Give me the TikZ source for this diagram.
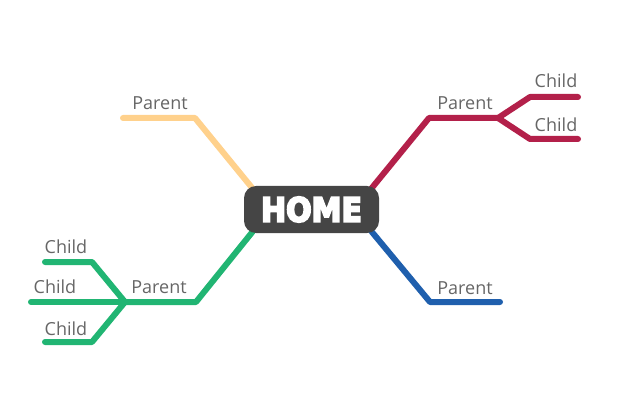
\documentclass[tikz,border=0pt]{standalone}
\usepackage{fontspec}
\setmainfont{Open Sans}
\newfontfamily\homefont{DejaVu Sans Bold}
\definecolor{cyel}{HTML}{FFD18C}
\definecolor{cred}{HTML}{B3204A}
\definecolor{cblue}{HTML}{1F5FAD}
\definecolor{cgreen}{HTML}{21B573}
\definecolor{cbox}{HTML}{454545}
\definecolor{ctext}{HTML}{666666}
\newcommand{\heavytext}[1]{\special{pdf:literal 2 Tr 1.5 w 1 1 1 RG}#1\special{pdf:literal 0 Tr}}
\begin{document}
\begin{tikzpicture}[x=0.75pt,y=-0.75pt,
  branch/.style={line width=4.5pt,line cap=round,line join=round},
  lbl/.style={text=ctext,font=\fontsize{13.5pt}{16pt}\selectfont,anchor=base,inner sep=0pt},
  homebox/.style={fill=cbox,rounded corners=9pt,minimum width=101.25pt,minimum height=35.25pt,inner sep=0pt,text=white,font=\homefont\fontsize{25pt}{26pt}\selectfont}]
\useasboundingbox (0,0) rectangle (620,413);
% coordinates
\coordinate (c) at (311.5,209.5);
% yellow
\coordinate (y0) at (262,200);
\coordinate (y1) at (195,118);
\coordinate (y2) at (123,118);
% red
\coordinate (r0) at (362,200);
\coordinate (r1) at (429,118);
\coordinate (r2) at (498,118);
\coordinate (r3) at (530,97);
\coordinate (r4) at (578,97);
\coordinate (r5) at (530,139);
\coordinate (r6) at (578,139);
% blue
\coordinate (b0) at (362,220);
\coordinate (b1) at (430,302);
\coordinate (b2) at (500,302);
% green
\coordinate (g0) at (262,220);
\coordinate (g1) at (196,302);
\coordinate (g2) at (125,302);
\coordinate (g3) at (92,262);
\coordinate (g4) at (45,262);
\coordinate (g5) at (31,302);
\coordinate (g6) at (92,342);
\coordinate (g7) at (45,342);
% branches
\draw[branch,cyel] (y0) -- (y1) -- (y2);
\draw[branch,cred] (r0) -- (r1) -- (r2) -- (r3) -- (r4);
\draw[branch,cred] (r2) -- (r5) -- (r6);
\draw[branch,cblue] (b0) -- (b1) -- (b2);
\draw[branch,cgreen] (g0) -- (g1) -- (g2) -- (g3) -- (g4);
\draw[branch,cgreen] (g2) -- (g5);
\draw[branch,cgreen] (g2) -- (g6) -- (g7);
% center
\node[homebox] (home) at (c) {\scalebox{0.9}[1]{\heavytext{HOME}}};
% labels
\node[lbl] (py) at (160,110) {Parent};
\node[lbl] (pr) at (465,110) {Parent};
\node[lbl] (cr1) at (556,88) {Child};
\node[lbl] (cr2) at (556,132) {Child};
\node[lbl] (pb) at (465,294) {Parent};
\node[lbl] (pg) at (159,293) {Parent};
\node[lbl] (cg1) at (66,253) {Child};
\node[lbl] (cg2) at (55,293) {Child};
\node[lbl] (cg3) at (66,335) {Child};
\end{tikzpicture}
\end{document}
